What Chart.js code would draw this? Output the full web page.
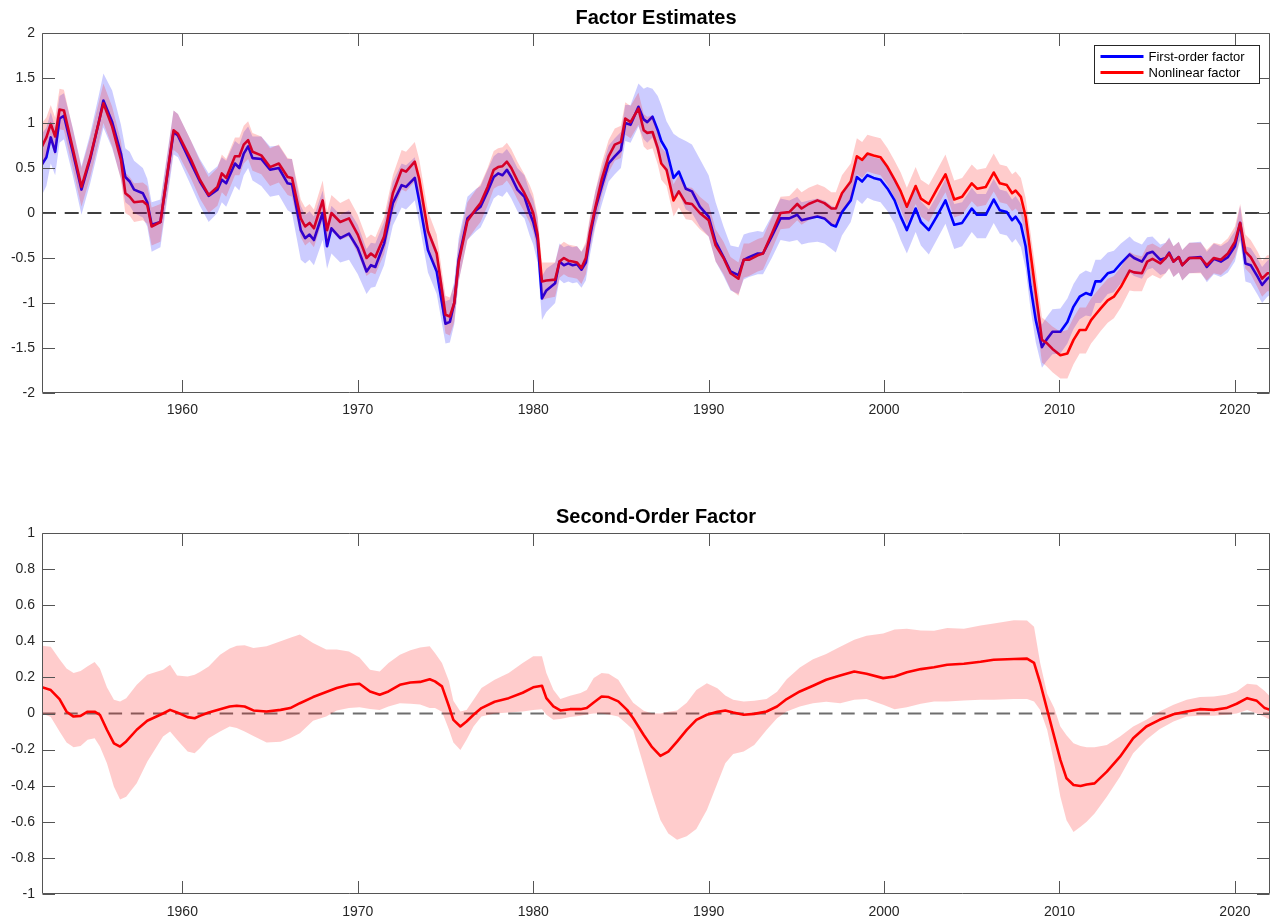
<!DOCTYPE html>
<html>
<head>
<meta charset="utf-8">
<script src="https://cdn.jsdelivr.net/npm/chart.js@4.4.0/dist/chart.umd.min.js"></script>
<style>
  html, body { margin: 0; padding: 0; background: #ffffff; }
  #wrap { position: relative; width: 1270px; height: 918px; overflow: hidden; background: #ffffff; }
  #wrap canvas { position: absolute; left: 0; top: 0; }
</style>
</head>
<body>
<div id="wrap">
  <canvas id="topPanel" width="1270" height="918"></canvas>
  <canvas id="bottomPanel" width="1270" height="918"></canvas>
</div>
<script>
// ---------- tick labels ----------
const yearTicks = [1960, 1970, 1980, 1990, 2000, 2010, 2020];
const topValueTicks = [-2, -1.5, -1, -0.5, 0, 0.5, 1, 1.5, 2];
const bottomValueTicks = [-1, -0.8, -0.6, -0.4, -0.2, 0, 0.2, 0.4, 0.6, 0.8, 1];
const seriesNames = ['First-order factor', 'Nonlinear factor'];
const zeroLevel = 0;
const xMin = 1952, xMax = 2022;

// ---------- factor estimates (upper panel) ----------
const topYears = [
  1952.00,1952.25,1952.50,1952.75,1953.00,1953.25,1953.75,1954.25,1954.75,1955.25,
  1955.50,1956.00,1956.50,1956.75,1957.00,1957.25,1957.75,1958.00,1958.25,1958.75,
  1959.50,1959.75,1960.50,1961.00,1961.50,1962.00,1962.25,1962.50,1963.00,1963.25,
  1963.50,1963.75,1964.00,1964.50,1965.00,1965.50,1966.00,1966.25,1966.75,1967.00,
  1967.25,1967.50,1968.00,1968.25,1968.50,1969.00,1969.50,1970.00,1970.50,1970.75,
  1971.00,1971.50,1972.00,1972.50,1972.75,1973.25,1973.50,1974.00,1974.50,1975.00,
  1975.25,1975.50,1975.75,1976.25,1976.75,1977.00,1977.40,1977.75,1978.00,1978.25,
  1978.50,1978.75,1979.10,1979.50,1979.80,1980.00,1980.25,1980.50,1980.75,1981.25,
  1981.50,1981.75,1982.00,1982.25,1982.50,1982.75,1983.00,1983.25,1983.55,1983.90,
  1984.30,1984.65,1985.00,1985.25,1985.55,1986.00,1986.30,1986.50,1986.80,1987.10,
  1987.30,1987.60,1988.00,1988.30,1988.70,1989.05,1989.50,1990.00,1990.40,1990.85,
  1991.25,1991.70,1992.00,1992.30,1992.80,1993.10,1993.60,1994.10,1994.60,1995.05,
  1995.30,1995.70,1996.20,1996.60,1997.00,1997.25,1997.60,1998.10,1998.45,1998.75,
  1999.05,1999.40,1999.80,2000.20,2000.60,2000.95,2001.30,2001.80,2002.10,2002.55,
  2003.00,2003.50,2004.00,2004.45,2005.00,2005.30,2005.80,2006.25,2006.60,2007.00,
  2007.30,2007.50,2007.80,2008.07,2008.35,2008.65,2009.00,2009.25,2009.60,2010.05,
  2010.45,2010.80,2011.15,2011.50,2011.80,2012.05,2012.35,2012.75,2013.10,2013.50,
  2014.00,2014.25,2014.70,2015.00,2015.30,2015.75,2016.05,2016.25,2016.50,2016.80,
  2017.00,2017.40,2018.05,2018.40,2018.80,2019.20,2019.60,2020.00,2020.30,2020.60,
  2020.90,2021.30,2021.55,2021.85,2022.00
];

const firstOrder = [
  0.54,0.62,0.84,0.68,1.05,1.08,0.68,0.26,0.60,1.02,
  1.25,1.01,0.66,0.40,0.35,0.26,0.22,0.12,-0.13,-0.10,
  0.90,0.86,0.55,0.35,0.19,0.26,0.37,0.33,0.55,0.50,
  0.66,0.74,0.61,0.60,0.48,0.50,0.33,0.32,-0.19,-0.28,
  -0.24,-0.30,0.00,-0.37,-0.17,-0.28,-0.23,-0.39,-0.65,-0.58,
  -0.60,-0.34,0.11,0.31,0.29,0.39,0.14,-0.41,-0.65,-1.23,
  -1.21,-1.00,-0.52,-0.06,0.03,0.07,0.24,0.40,0.44,0.42,
  0.48,0.40,0.26,0.18,0.00,-0.10,-0.30,-0.95,-0.86,-0.78,
  -0.54,-0.58,-0.56,-0.58,-0.57,-0.63,-0.55,-0.25,0.05,0.29,
  0.55,0.63,0.70,1.00,0.98,1.18,1.04,1.01,1.07,0.92,
  0.80,0.70,0.39,0.46,0.27,0.24,0.07,-0.04,-0.32,-0.49,
  -0.65,-0.69,-0.52,-0.49,-0.45,-0.45,-0.26,-0.06,-0.06,-0.02,
  -0.08,-0.06,-0.04,-0.06,-0.13,-0.15,0.01,0.14,0.40,0.35,
  0.42,0.39,0.37,0.27,0.14,-0.04,-0.19,0.05,-0.10,-0.19,
  -0.04,0.14,-0.13,-0.11,0.05,-0.02,-0.02,0.15,0.03,0.01,
  -0.08,-0.04,-0.13,-0.37,-0.82,-1.19,-1.49,-1.41,-1.32,-1.32,
  -1.21,-1.04,-0.93,-0.89,-0.91,-0.76,-0.76,-0.67,-0.65,-0.56,
  -0.46,-0.50,-0.54,-0.45,-0.43,-0.52,-0.50,-0.44,-0.54,-0.49,
  -0.58,-0.50,-0.49,-0.60,-0.51,-0.54,-0.49,-0.37,-0.11,-0.56,
  -0.58,-0.71,-0.80,-0.73,-0.71
];

const firstOrderLo = [
  0.20,0.30,0.55,0.42,0.78,0.82,0.42,-0.02,0.33,0.74,
  0.95,0.72,0.38,0.12,0.08,0.00,-0.05,-0.15,-0.43,-0.38,
  0.65,0.62,0.30,0.08,-0.10,0.00,0.12,0.07,0.30,0.25,
  0.42,0.50,0.36,0.30,0.18,0.20,0.03,0.00,-0.52,-0.56,
  -0.52,-0.58,-0.30,-0.62,-0.45,-0.55,-0.52,-0.68,-0.90,-0.83,
  -0.82,-0.58,-0.14,0.06,0.04,0.14,-0.11,-0.66,-0.90,-1.45,
  -1.44,-1.24,-0.76,-0.30,-0.20,-0.16,0.00,0.16,0.20,0.18,
  0.24,0.16,0.02,-0.06,-0.25,-0.35,-0.55,-1.19,-1.10,-1.00,
  -0.74,-0.78,-0.76,-0.78,-0.77,-0.83,-0.75,-0.45,-0.15,0.09,
  0.35,0.43,0.50,0.80,0.78,0.96,0.82,0.78,0.84,0.66,
  0.55,0.45,0.15,0.22,0.04,0.00,-0.15,-0.26,-0.54,-0.70,
  -0.86,-0.90,-0.74,-0.71,-0.68,-0.68,-0.50,-0.30,-0.32,-0.30,
  -0.35,-0.33,-0.32,-0.34,-0.40,-0.44,-0.25,-0.10,0.15,0.10,
  0.17,0.14,0.12,0.02,-0.12,-0.30,-0.45,-0.21,-0.36,-0.46,
  -0.30,-0.12,-0.40,-0.37,-0.21,-0.28,-0.28,-0.11,-0.23,-0.25,
  -0.33,-0.29,-0.38,-0.62,-1.07,-1.44,-1.72,-1.65,-1.57,-1.56,
  -1.45,-1.29,-1.18,-1.14,-1.15,-1.00,-1.00,-0.90,-0.88,-0.78,
  -0.66,-0.70,-0.73,-0.63,-0.61,-0.69,-0.67,-0.61,-0.71,-0.66,
  -0.75,-0.67,-0.66,-0.77,-0.68,-0.71,-0.66,-0.54,-0.30,-0.76,
  -0.78,-0.91,-1.00,-0.93,-0.91
];

const firstOrderHi = [
  0.88,0.95,1.12,0.95,1.30,1.33,0.95,0.52,0.88,1.32,
  1.55,1.36,0.98,0.72,0.68,0.58,0.50,0.38,0.12,0.15,
  1.14,1.10,0.80,0.60,0.44,0.52,0.62,0.58,0.80,0.76,
  0.90,0.96,0.85,0.85,0.74,0.75,0.60,0.60,0.08,-0.02,
  0.02,-0.04,0.25,-0.10,0.08,-0.02,0.03,-0.13,-0.40,-0.33,
  -0.34,-0.10,0.35,0.55,0.53,0.62,0.38,-0.16,-0.40,-0.98,
  -0.96,-0.76,-0.28,0.18,0.27,0.30,0.48,0.63,0.67,0.66,
  0.71,0.64,0.50,0.42,0.24,0.15,-0.05,-0.70,-0.62,-0.55,
  -0.34,-0.38,-0.36,-0.38,-0.37,-0.43,-0.35,-0.05,0.25,0.49,
  0.75,0.83,0.90,1.20,1.20,1.44,1.38,1.40,1.38,1.30,
  1.20,1.02,0.88,0.84,0.80,0.76,0.60,0.42,0.12,-0.15,
  -0.36,-0.38,-0.24,-0.22,-0.20,-0.21,-0.03,0.16,0.14,0.18,
  0.12,0.14,0.16,0.14,0.08,0.06,0.22,0.36,0.62,0.57,
  0.65,0.62,0.60,0.50,0.37,0.20,0.05,0.28,0.13,0.04,
  0.19,0.38,0.10,0.12,0.28,0.21,0.21,0.38,0.26,0.24,
  0.15,0.19,0.10,-0.12,-0.57,-0.94,-1.24,-1.16,-1.07,-1.06,
  -0.95,-0.79,-0.68,-0.64,-0.66,-0.52,-0.52,-0.44,-0.42,-0.34,
  -0.26,-0.31,-0.35,-0.27,-0.26,-0.35,-0.33,-0.27,-0.37,-0.32,
  -0.41,-0.33,-0.32,-0.43,-0.34,-0.37,-0.32,-0.20,0.08,-0.37,
  -0.39,-0.51,-0.60,-0.53,-0.51
];

const nonlinear = [
  0.74,0.84,0.99,0.85,1.15,1.14,0.72,0.29,0.62,1.02,
  1.22,0.96,0.59,0.22,0.18,0.12,0.13,0.09,-0.15,-0.10,
  0.92,0.88,0.59,0.37,0.20,0.29,0.44,0.39,0.63,0.63,
  0.76,0.81,0.68,0.64,0.51,0.55,0.40,0.39,-0.06,-0.15,
  -0.11,-0.17,0.14,-0.19,0.00,-0.10,-0.06,-0.24,-0.50,-0.45,
  -0.49,-0.26,0.22,0.48,0.46,0.57,0.38,-0.20,-0.45,-1.13,
  -1.15,-1.00,-0.55,-0.09,0.05,0.11,0.29,0.48,0.51,0.52,
  0.57,0.50,0.36,0.22,0.10,0.00,-0.24,-0.76,-0.75,-0.74,
  -0.54,-0.50,-0.53,-0.54,-0.55,-0.61,-0.50,-0.20,0.07,0.37,
  0.63,0.76,0.79,1.05,1.01,1.16,0.92,0.89,0.90,0.72,
  0.55,0.48,0.14,0.24,0.11,0.10,0.00,-0.08,-0.36,-0.50,
  -0.67,-0.73,-0.52,-0.52,-0.47,-0.45,-0.23,0.00,0.01,0.10,
  0.05,0.10,0.14,0.11,0.05,0.05,0.22,0.35,0.63,0.59,
  0.66,0.64,0.62,0.51,0.37,0.24,0.07,0.30,0.16,0.10,
  0.26,0.43,0.15,0.18,0.33,0.27,0.29,0.45,0.33,0.31,
  0.22,0.25,0.18,-0.04,-0.45,-0.89,-1.41,-1.44,-1.51,-1.58,
  -1.56,-1.41,-1.30,-1.30,-1.19,-1.13,-1.06,-0.97,-0.93,-0.82,
  -0.64,-0.66,-0.67,-0.54,-0.51,-0.56,-0.50,-0.45,-0.54,-0.49,
  -0.58,-0.50,-0.50,-0.58,-0.50,-0.52,-0.45,-0.32,-0.11,-0.43,
  -0.49,-0.63,-0.73,-0.67,-0.67
];

const nonlinearLo = [
  0.50,0.62,0.78,0.64,0.93,0.92,0.50,0.07,0.40,0.80,
  1.00,0.74,0.37,0.00,-0.03,-0.10,-0.08,-0.12,-0.36,-0.32,
  0.70,0.66,0.38,0.16,0.00,0.08,0.23,0.18,0.42,0.42,
  0.55,0.60,0.47,0.43,0.30,0.34,0.20,0.18,-0.27,-0.36,
  -0.32,-0.38,-0.08,-0.40,-0.20,-0.30,-0.26,-0.45,-0.70,-0.66,
  -0.68,-0.46,0.00,0.26,0.24,0.35,0.16,-0.42,-0.66,-1.34,
  -1.36,-1.21,-0.76,-0.30,-0.16,-0.10,0.08,0.27,0.30,0.31,
  0.36,0.29,0.15,0.01,-0.11,-0.21,-0.45,-0.97,-0.95,-0.93,
  -0.72,-0.68,-0.71,-0.72,-0.73,-0.79,-0.68,-0.38,-0.11,0.19,
  0.45,0.58,0.61,0.87,0.83,0.98,0.74,0.70,0.72,0.54,
  0.37,0.30,-0.04,0.06,-0.07,-0.08,-0.18,-0.26,-0.54,-0.68,
  -0.85,-0.92,-0.72,-0.70,-0.65,-0.63,-0.41,-0.18,-0.17,-0.08,
  -0.13,-0.08,-0.04,-0.07,-0.13,-0.13,0.02,0.15,0.43,0.39,
  0.46,0.44,0.42,0.31,0.17,0.04,-0.13,0.10,-0.04,-0.10,
  0.06,0.23,-0.05,-0.02,0.13,0.07,0.09,0.24,0.12,0.10,
  0.02,0.05,-0.02,-0.25,-0.68,-1.14,-1.66,-1.70,-1.77,-1.84,
  -1.84,-1.68,-1.56,-1.56,-1.45,-1.39,-1.31,-1.22,-1.17,-1.05,
  -0.86,-0.87,-0.87,-0.73,-0.69,-0.73,-0.67,-0.62,-0.71,-0.66,
  -0.75,-0.67,-0.67,-0.75,-0.67,-0.69,-0.62,-0.49,-0.30,-0.62,
  -0.68,-0.83,-0.93,-0.87,-0.87
];

const nonlinearHi = [
  1.00,1.06,1.20,1.06,1.38,1.37,0.94,0.50,0.84,1.24,
  1.44,1.18,0.80,0.45,0.40,0.33,0.34,0.30,0.06,0.10,
  1.14,1.10,0.80,0.58,0.40,0.50,0.65,0.60,0.84,0.84,
  0.97,1.02,0.89,0.85,0.72,0.76,0.61,0.60,0.15,0.06,
  0.10,0.04,0.36,0.02,0.20,0.11,0.16,-0.02,-0.28,-0.24,
  -0.27,-0.04,0.42,0.70,0.68,0.79,0.60,0.02,-0.24,-0.92,
  -0.94,-0.80,-0.34,0.12,0.26,0.32,0.50,0.69,0.72,0.73,
  0.78,0.71,0.57,0.43,0.31,0.21,-0.03,-0.55,-0.55,-0.55,
  -0.36,-0.32,-0.35,-0.36,-0.37,-0.43,-0.32,-0.02,0.25,0.55,
  0.81,0.94,0.97,1.23,1.19,1.34,1.10,1.07,1.08,0.90,
  0.73,0.66,0.32,0.42,0.29,0.28,0.18,0.10,-0.18,-0.32,
  -0.49,-0.55,-0.34,-0.34,-0.29,-0.27,-0.05,0.18,0.19,0.28,
  0.23,0.28,0.32,0.29,0.23,0.23,0.42,0.55,0.83,0.79,
  0.87,0.85,0.83,0.72,0.58,0.45,0.28,0.51,0.37,0.31,
  0.47,0.65,0.36,0.39,0.54,0.48,0.50,0.66,0.54,0.52,
  0.43,0.46,0.39,0.17,-0.22,-0.64,-1.16,-1.20,-1.26,-1.32,
  -1.30,-1.16,-1.05,-1.05,-0.95,-0.89,-0.82,-0.73,-0.70,-0.60,
  -0.43,-0.46,-0.48,-0.36,-0.34,-0.39,-0.33,-0.28,-0.37,-0.32,
  -0.41,-0.33,-0.33,-0.41,-0.33,-0.35,-0.28,-0.15,0.10,-0.24,
  -0.30,-0.43,-0.53,-0.47,-0.47
];

// ---------- second-order factor (lower panel) ----------
const bottomYears = [
  1952.0,1952.5,1953.0,1953.4,1953.8,1954.2,1954.6,1955.0,1955.3,1955.7,
  1956.1,1956.45,1956.8,1957.4,1958.0,1958.9,1959.3,1959.7,1960.3,1960.7,
  1961.0,1961.5,1962.15,1962.7,1963.1,1963.55,1964.05,1964.8,1965.6,1966.15,
  1966.7,1967.45,1968.2,1968.8,1969.5,1970.1,1970.7,1971.25,1971.75,1972.4,
  1973.0,1973.55,1974.1,1974.4,1974.8,1975.2,1975.45,1975.85,1976.2,1976.6,
  1977.05,1977.8,1978.6,1979.4,1980.0,1980.5,1980.75,1981.15,1981.55,1982.1,
  1982.7,1983.05,1983.45,1983.9,1984.3,1984.85,1985.35,1985.7,1986.3,1986.75,
  1987.25,1987.7,1988.2,1988.75,1989.3,1989.9,1990.5,1990.95,1991.4,1992.0,
  1992.6,1993.3,1993.9,1994.45,1995.2,1995.95,1996.7,1997.5,1998.3,1999.0,
  1999.95,2000.6,2001.3,2002.1,2002.85,2003.6,2004.55,2005.5,2006.25,2007.4,
  2008.15,2008.55,2008.9,2009.3,2009.7,2010.05,2010.4,2010.8,2011.2,2011.55,
  2012.0,2012.7,2013.45,2014.2,2014.95,2015.7,2016.5,2017.25,2018.0,2018.8,
  2019.5,2020.1,2020.7,2021.25,2021.7,2022.0
];

const secondOrder = [
  0.146,0.13,0.08,0.01,-0.017,-0.013,0.01,0.01,-0.007,-0.09,
  -0.165,-0.183,-0.155,-0.09,-0.04,0.0,0.02,0.006,-0.02,-0.026,
  -0.013,0.006,0.024,0.039,0.043,0.039,0.017,0.011,0.02,0.03,
  0.057,0.091,0.119,0.141,0.159,0.165,0.122,0.104,0.122,0.159,
  0.172,0.175,0.19,0.178,0.15,0.039,-0.035,-0.072,-0.044,-0.007,
  0.03,0.065,0.085,0.115,0.145,0.154,0.085,0.039,0.017,0.024,
  0.024,0.03,0.061,0.094,0.091,0.067,0.02,-0.026,-0.119,-0.183,
  -0.235,-0.211,-0.156,-0.091,-0.035,-0.007,0.009,0.017,0.006,-0.007,
  -0.002,0.011,0.039,0.08,0.122,0.154,0.187,0.211,0.233,0.22,
  0.196,0.205,0.228,0.246,0.256,0.27,0.276,0.287,0.298,0.302,
  0.304,0.28,0.169,0.02,-0.128,-0.257,-0.359,-0.396,-0.402,-0.393,
  -0.387,-0.322,-0.239,-0.137,-0.072,-0.035,-0.004,0.011,0.024,0.02,
  0.03,0.054,0.085,0.07,0.03,0.02
];

const secondOrderLo = [
  0.0,-0.02,-0.10,-0.16,-0.187,-0.18,-0.146,-0.137,-0.183,-0.276,
  -0.406,-0.476,-0.461,-0.387,-0.267,-0.128,-0.10,-0.146,-0.211,-0.22,
  -0.193,-0.137,-0.10,-0.072,-0.08,-0.10,-0.125,-0.16,-0.156,-0.137,
  -0.109,-0.04,-0.017,0.017,0.03,0.035,0.025,0.02,0.039,0.057,
  0.054,0.05,0.03,0.03,0.01,-0.09,-0.16,-0.202,-0.146,-0.072,
  -0.017,0.0,0.005,0.011,0.02,0.024,-0.007,-0.035,-0.03,-0.02,
  -0.013,-0.005,0.0,0.0,-0.005,-0.017,-0.06,-0.091,-0.29,-0.44,
  -0.59,-0.665,-0.70,-0.68,-0.64,-0.535,-0.387,-0.276,-0.224,-0.211,
  -0.174,-0.091,-0.026,0.011,0.039,0.057,0.065,0.057,0.076,0.08,
  0.048,0.024,0.035,0.054,0.067,0.067,0.072,0.076,0.076,0.08,
  0.081,0.067,0.02,-0.091,-0.276,-0.461,-0.591,-0.656,-0.628,-0.60,
  -0.554,-0.461,-0.35,-0.22,-0.146,-0.087,-0.044,-0.017,-0.013,-0.013,
  -0.007,0.0,0.02,0.0,-0.02,-0.035
];

const secondOrderHi = [
  0.376,0.37,0.30,0.25,0.224,0.235,0.262,0.285,0.25,0.146,
  0.076,0.067,0.085,0.159,0.215,0.243,0.27,0.21,0.205,0.215,
  0.23,0.26,0.326,0.36,0.375,0.378,0.363,0.372,0.40,0.419,
  0.437,0.39,0.354,0.354,0.344,0.31,0.243,0.233,0.28,0.326,
  0.35,0.365,0.372,0.335,0.28,0.178,0.07,0.011,0.02,0.076,
  0.141,0.187,0.224,0.28,0.317,0.317,0.224,0.131,0.08,0.098,
  0.113,0.13,0.196,0.224,0.22,0.187,0.11,0.06,0.015,0.002,
  0.0,0.01,0.017,0.06,0.13,0.168,0.14,0.10,0.076,0.067,
  0.07,0.08,0.12,0.19,0.255,0.30,0.33,0.37,0.409,0.431,
  0.443,0.465,0.47,0.46,0.458,0.474,0.469,0.487,0.498,0.517,
  0.515,0.48,0.28,0.11,0.03,-0.072,-0.12,-0.165,-0.18,-0.187,
  -0.187,-0.174,-0.128,-0.072,-0.035,0.011,0.048,0.076,0.091,0.094,
  0.104,0.122,0.165,0.159,0.125,0.094
];

// ---------- helpers ----------
Chart.defaults.font.family = '"Liberation Sans", Arial, Helvetica, sans-serif';
Chart.defaults.color = '#262626';
Chart.defaults.animation = false;

const toPoints = (xs, ys) => xs.map((x, i) => ({ x: x, y: ys[i] }));

function lineSeries(label, xs, ys, color, width, order, dash) {
  return {
    label: label, data: toPoints(xs, ys),
    borderColor: color, borderWidth: width, borderDash: dash || [],
    borderJoinStyle: 'round', borderCapStyle: 'butt',
    pointRadius: 0, pointHoverRadius: 0, fill: false, tension: 0, order: order
  };
}

function bandEdge(label, xs, ys, fillColor, fillTarget, order) {
  return {
    label: label, data: toPoints(xs, ys),
    borderColor: 'rgba(0,0,0,0)', borderWidth: 0,
    backgroundColor: fillColor, fill: fillTarget,
    pointRadius: 0, pointHoverRadius: 0, tension: 0, order: order
  };
}

// Axes box with inward tick marks on all four sides
const frameBox = {
  id: 'frameBox',
  afterDatasetsDraw(chart, args, opts) {
    const { ctx, chartArea: a, scales } = chart;
    const L = Math.round(a.left) + 0.5, R = Math.round(a.right) - 0.5;
    const T = Math.round(a.top) + 0.5, B = Math.round(a.bottom) - 0.5;
    const len = opts.tickLen;
    ctx.save();
    ctx.strokeStyle = opts.color;
    ctx.lineWidth = 1;
    ctx.beginPath();
    ctx.rect(L, T, R - L, B - T);
    scales.x.ticks.forEach(t => {
      const px = Math.round(scales.x.getPixelForValue(t.value)) + 0.5;
      ctx.moveTo(px, B); ctx.lineTo(px, B - len);
      ctx.moveTo(px, T); ctx.lineTo(px, T + len);
    });
    scales.y.ticks.forEach(t => {
      const py = Math.round(scales.y.getPixelForValue(t.value)) + 0.5;
      ctx.moveTo(L, py); ctx.lineTo(L + len, py);
      ctx.moveTo(R, py); ctx.lineTo(R - len, py);
    });
    ctx.stroke();
    ctx.restore();
  }
};

// Boxed legend in the upper-right corner of the plot area
const cornerLegend = {
  id: 'cornerLegend',
  afterDraw(chart, args, opts) {
    if (!opts || !opts.items) return;
    const { ctx, chartArea: a } = chart;
    const w = opts.width, h = opts.height;
    const x0 = Math.round(a.right - opts.offsetRight - w) + 0.5;
    const y0 = Math.round(a.top + opts.offsetTop) + 0.5;
    ctx.save();
    ctx.fillStyle = '#ffffff';
    ctx.fillRect(x0, y0, w, h);
    ctx.strokeStyle = '#262626';
    ctx.lineWidth = 1;
    ctx.strokeRect(x0, y0, w, h);
    ctx.font = '13px "Liberation Sans", Arial, Helvetica, sans-serif';
    ctx.textBaseline = 'middle';
    ctx.textAlign = 'left';
    opts.items.forEach((it, i) => {
      const y = y0 + 11 + i * 16;
      ctx.strokeStyle = it.color;
      ctx.lineWidth = 2.8;
      ctx.beginPath();
      ctx.moveTo(x0 + 6, y); ctx.lineTo(x0 + 49, y);
      ctx.stroke();
      ctx.fillStyle = '#000000';
      ctx.fillText(it.label, x0 + 54, y + 0.5);
    });
    ctx.restore();
  }
};

function scalesFor(valueTicks, vMin, vMax, xAxisHeight, xLabelPad) {
  return {
    x: {
      type: 'linear', min: xMin, max: xMax,
      grid: { display: false, drawTicks: false, tickLength: 0 }, border: { display: false },
      ticks: { padding: xLabelPad, autoSkip: false, maxRotation: 0, font: { size: 14 }, color: '#262626',
               callback: v => String(v) },
      afterBuildTicks: s => { s.ticks = yearTicks.map(v => ({ value: v })); },
      afterFit: s => { s.height = xAxisHeight; }
    },
    y: {
      type: 'linear', min: vMin, max: vMax,
      grid: { display: false, drawTicks: false, tickLength: 0 }, border: { display: false },
      ticks: { padding: 7, autoSkip: false, font: { size: 14 }, color: '#262626',
               callback: v => String(v) },
      afterBuildTicks: s => { s.ticks = valueTicks.map(v => ({ value: v })); },
      afterFit: s => { s.width = 42; }
    }
  };
}

function titleFor(text, padTop, padBottom) {
  return {
    display: true, text: text, fullSize: false, color: '#000000',
    font: { size: 20, weight: 'bold', lineHeight: 1 },
    padding: { top: padTop, bottom: padBottom }
  };
}

// ---------- upper panel ----------
new Chart(document.getElementById('topPanel'), {
  type: 'line',
  data: {
    datasets: [
      lineSeries('zero', [xMin, xMax], [zeroLevel, zeroLevel], '#000000', 1.5, 20, [14, 8.7]),
      lineSeries(seriesNames[0], topYears, firstOrder, '#0000ff', 2.6, 12),
      lineSeries(seriesNames[1], topYears, nonlinear, '#ff0000', 2.6, 11),
      bandEdge('first-order upper', topYears, firstOrderHi, 'rgba(0,0,255,0.2)', '+1', 6),
      bandEdge('first-order lower', topYears, firstOrderLo, 'rgba(0,0,255,0.2)', false, 6),
      bandEdge('nonlinear upper', topYears, nonlinearHi, 'rgba(255,0,0,0.2)', '+1', 5),
      bandEdge('nonlinear lower', topYears, nonlinearLo, 'rgba(255,0,0,0.2)', false, 5)
    ]
  },
  options: {
    responsive: false, animation: false, events: [],
    layout: { padding: { left: 0, right: 0, top: 0, bottom: 488 } },
    scales: scalesFor(topValueTicks, -2, 2, 37, 9),
    plugins: {
      legend: { display: false }, tooltip: { enabled: false },
      title: titleFor('Factor Estimates', 8, 5),
      frameBox: { color: '#555555', tickLen: 12.5 },
      cornerLegend: {
        width: 165, height: 38, offsetRight: 11, offsetTop: 12,
        items: [ { label: seriesNames[0], color: '#0000ff' }, { label: seriesNames[1], color: '#ff0000' } ]
      }
    }
  },
  plugins: [frameBox, cornerLegend]
});

// ---------- lower panel ----------
new Chart(document.getElementById('bottomPanel'), {
  type: 'line',
  data: {
    datasets: [
      lineSeries('zero', [xMin, xMax], [zeroLevel, zeroLevel], '#6e6e6e', 2, 20, [13.5, 8.7]),
      bandEdge('second-order upper', bottomYears, secondOrderHi, 'rgba(255,0,0,0.2)', '+1', 8),
      bandEdge('second-order lower', bottomYears, secondOrderLo, 'rgba(255,0,0,0.2)', false, 8),
      lineSeries('Second-order factor', bottomYears, secondOrder, '#ff0000', 2.6, 1)
    ]
  },
  options: {
    responsive: false, animation: false, events: [],
    layout: { padding: { left: 0, right: 0, top: 500, bottom: 0 } },
    scales: scalesFor(bottomValueTicks, -1, 1, 24, 10),
    plugins: {
      legend: { display: false }, tooltip: { enabled: false },
      title: titleFor('Second-Order Factor', 7, 6),
      frameBox: { color: '#555555', tickLen: 12.5 }
    }
  },
  plugins: [frameBox]
});
</script>
</body>
</html>
